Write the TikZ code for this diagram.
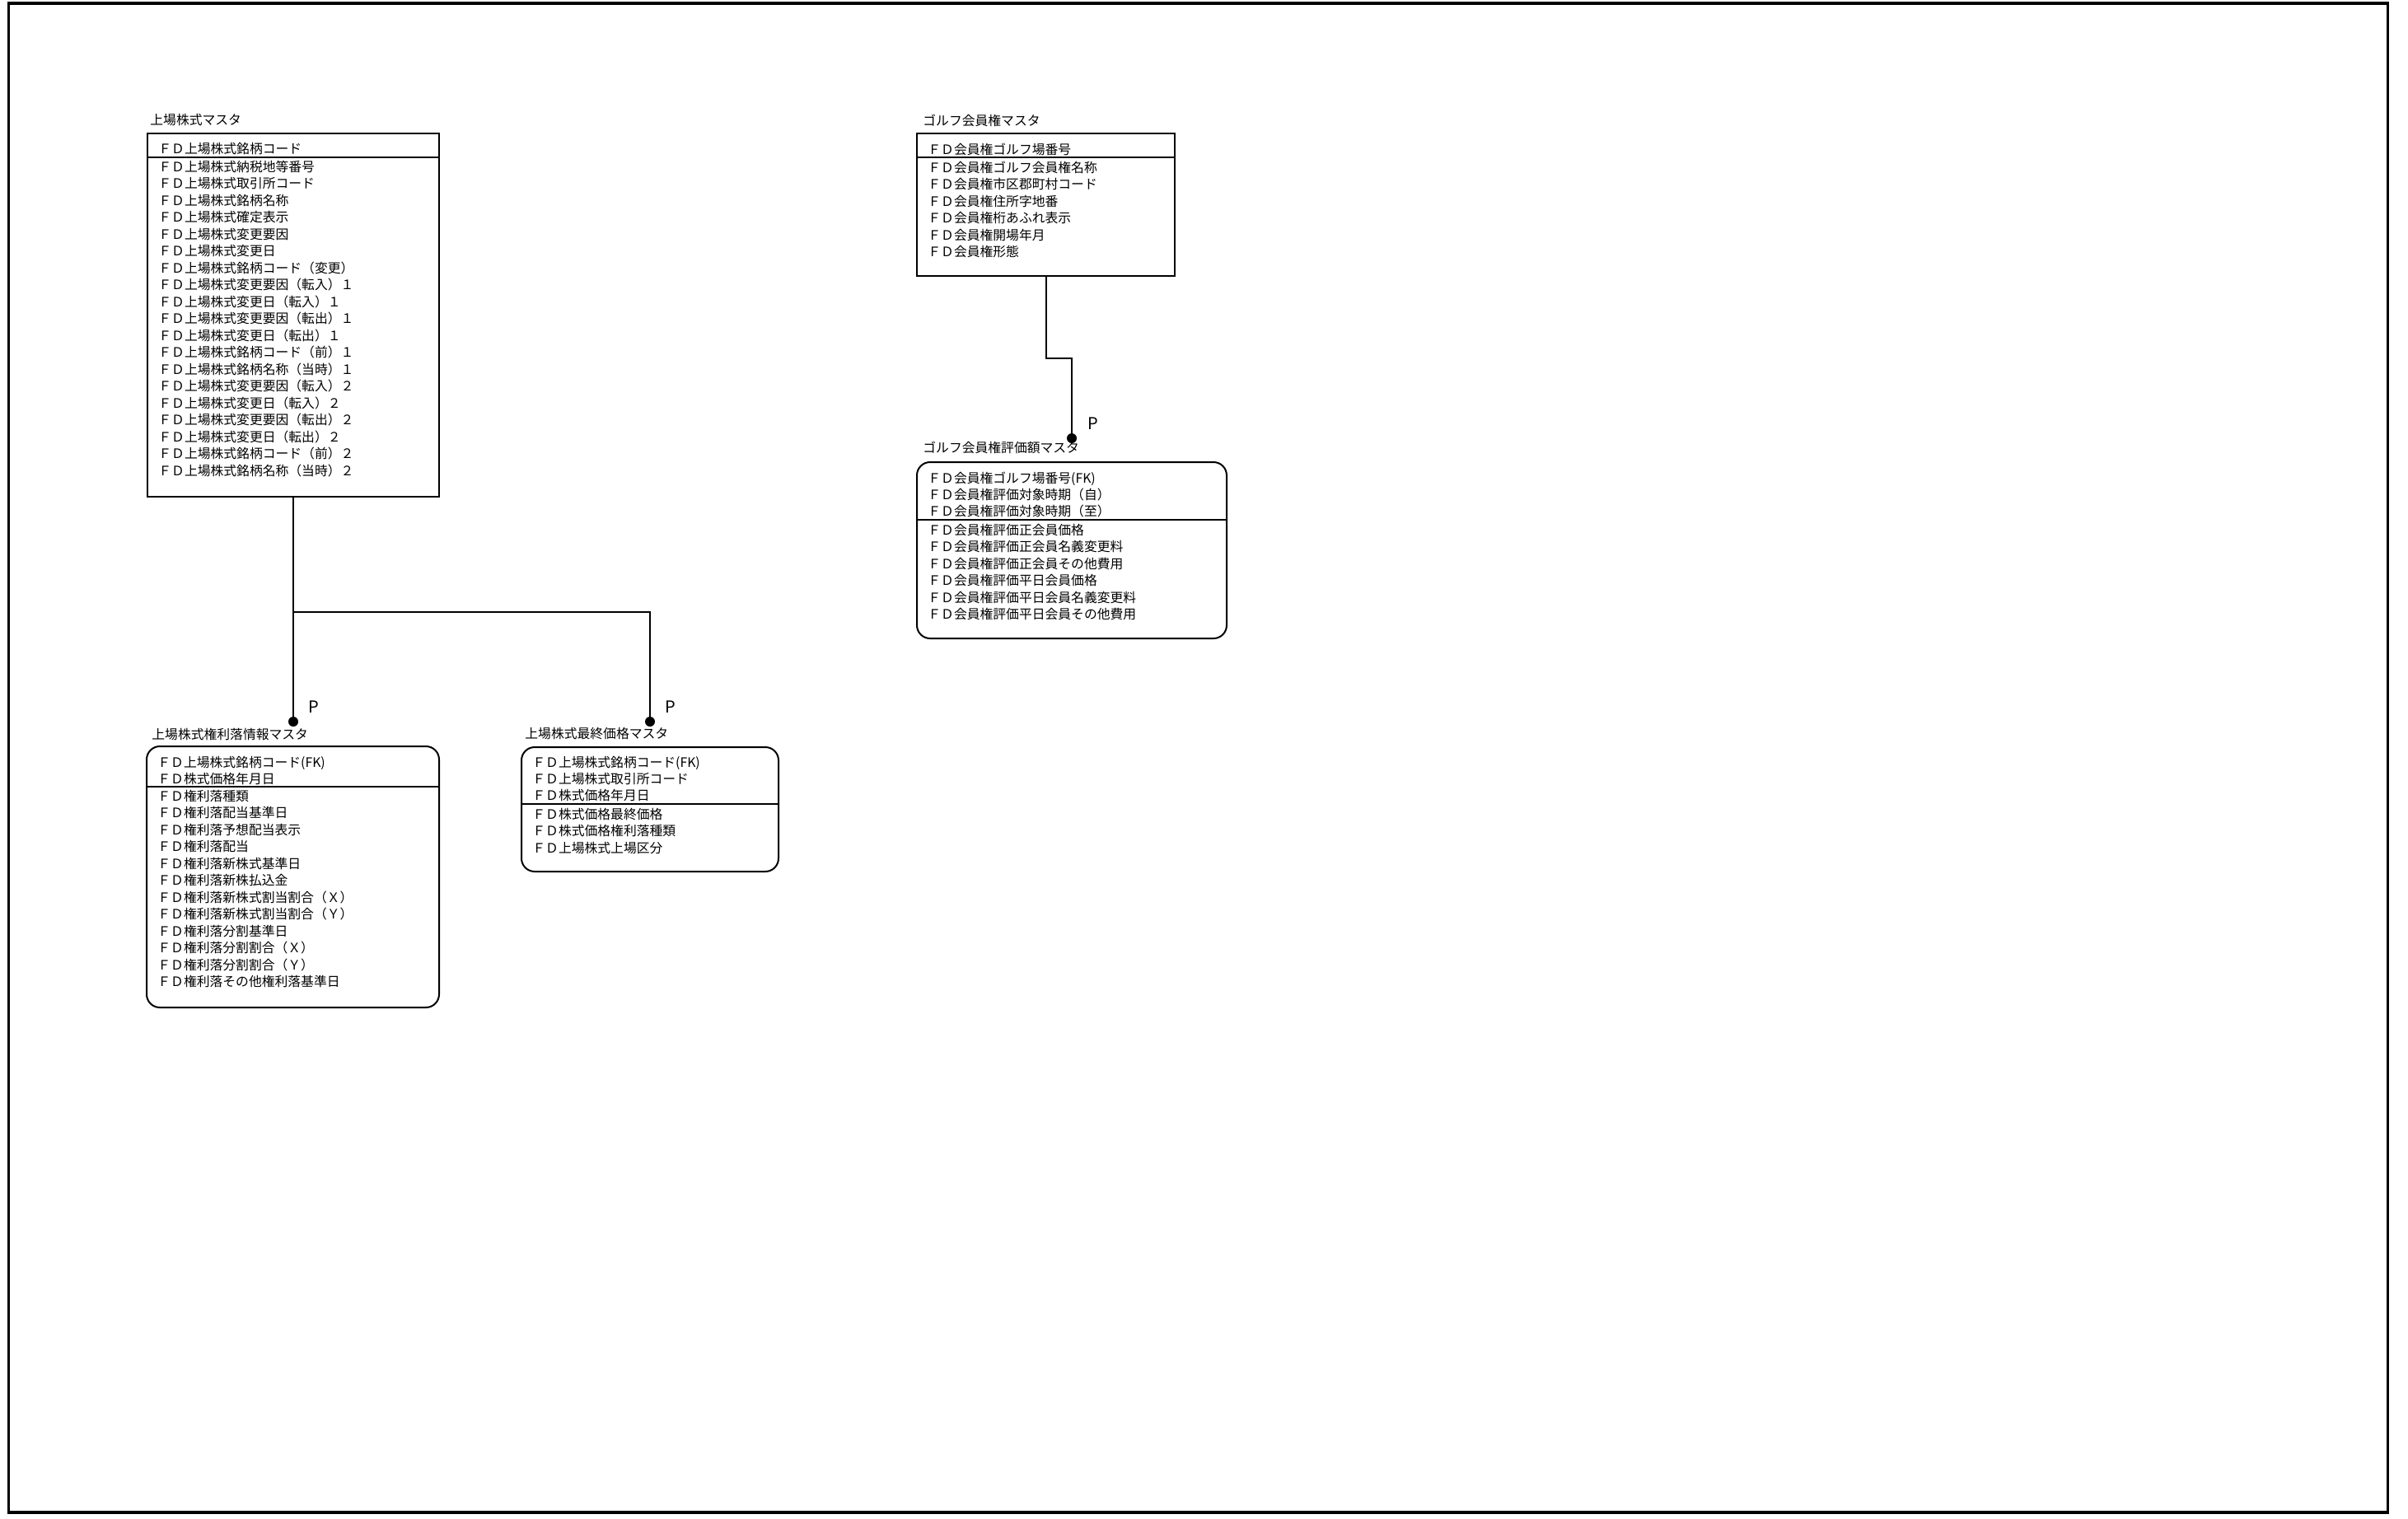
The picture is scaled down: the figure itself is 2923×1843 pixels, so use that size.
\documentclass[tikz,border=0pt]{standalone}
\usepackage{fontspec}
\setmainfont{Noto Sans CJK JP}
\usetikzlibrary{positioning,calc,fit}

\begin{document}
\begin{tikzpicture}[
    x=0.5pt, y=-0.5pt,
    table/.style={rectangle, draw, line width=1pt, inner sep=0pt},
    rtable/.style={table, rounded corners=8pt},
    title/.style={anchor=base west, inner sep=0pt, font=\fontsize{7.9}{10}\selectfont},
    keyrows/.style={anchor=base west, inner sep=0pt, align=left, text width=170pt, font=\fontsize{7.9}{10}\selectfont},
    rows/.style={keyrows, font=\fontsize{7.9}{10.25}\selectfont},
    sep/.style={line width=1pt},
    rel/.style={line width=1pt},
    dot/.style={circle, fill, inner sep=0pt, minimum size=6pt},
    plabel/.style={anchor=base west, inner sep=0pt, font=\fontsize{10}{12}\selectfont}
]
\useasboundingbox (0,0) rectangle (2923,1843);
\draw[line width=1.75pt] (10.5,4) rectangle (2898.5,1836);

% 上場株式マスタ
\node[title] (stockT) at (182,151) {上場株式マスタ};
\node[table, fit={(179,162) (533,603)}] (stock) {};
\draw[sep] (stock.west |- 0,191) -- (stock.east |- 0,191);
\node[keyrows] (stockK) at (192,186) {ＦＤ上場株式銘柄コード};
\node[rows] (stockA) at (192,208) {ＦＤ上場株式納税地等番号\\ＦＤ上場株式取引所コード\\ＦＤ上場株式銘柄名称\\ＦＤ上場株式確定表示\\ＦＤ上場株式変更要因\\ＦＤ上場株式変更日\\ＦＤ上場株式銘柄コード（変更）\\ＦＤ上場株式変更要因（転入）１\\ＦＤ上場株式変更日（転入）１\\ＦＤ上場株式変更要因（転出）１\\ＦＤ上場株式変更日（転出）１\\ＦＤ上場株式銘柄コード（前）１\\ＦＤ上場株式銘柄名称（当時）１\\ＦＤ上場株式変更要因（転入）２\\ＦＤ上場株式変更日（転入）２\\ＦＤ上場株式変更要因（転出）２\\ＦＤ上場株式変更日（転出）２\\ＦＤ上場株式銘柄コード（前）２\\ＦＤ上場株式銘柄名称（当時）２};

% 上場株式権利落情報マスタ
\node[title] (rightsT) at (184,897) {上場株式権利落情報マスタ};
\node[rtable, fit={(178,906) (533,1223)}] (rights) {};
\draw[sep] (rights.west |- 0,955) -- (rights.east |- 0,955);
\node[keyrows] (rightsK) at (191,931) {ＦＤ上場株式銘柄コード(FK)\\ＦＤ株式価格年月日};
\node[rows] (rightsA) at (191,972) {ＦＤ権利落種類\\ＦＤ権利落配当基準日\\ＦＤ権利落予想配当表示\\ＦＤ権利落配当\\ＦＤ権利落新株式基準日\\ＦＤ権利落新株払込金\\ＦＤ権利落新株式割当割合（Ｘ）\\ＦＤ権利落新株式割当割合（Ｙ）\\ＦＤ権利落分割基準日\\ＦＤ権利落分割割合（Ｘ）\\ＦＤ権利落分割割合（Ｙ）\\ＦＤ権利落その他権利落基準日};

% 上場株式最終価格マスタ
\node[title] (finalT) at (637,896) {上場株式最終価格マスタ};
\node[rtable, fit={(633,907) (945,1058)}] (final) {};
\draw[sep] (final.west |- 0,976) -- (final.east |- 0,976);
\node[keyrows] (finalK) at (646,931) {ＦＤ上場株式銘柄コード(FK)\\ＦＤ上場株式取引所コード\\ＦＤ株式価格年月日};
\node[rows] (finalA) at (646,994) {ＦＤ株式価格最終価格\\ＦＤ株式価格権利落種類\\ＦＤ上場株式上場区分};

% ゴルフ会員権マスタ
\node[title] (golfT) at (1120,152) {ゴルフ会員権マスタ};
\node[table, fit={(1113,162) (1426,335)}] (golf) {};
\draw[sep] (golf.west |- 0,191) -- (golf.east |- 0,191);
\node[keyrows] (golfK) at (1126,187) {ＦＤ会員権ゴルフ場番号};
\node[rows] (golfA) at (1126,209) {ＦＤ会員権ゴルフ会員権名称\\ＦＤ会員権市区郡町村コード\\ＦＤ会員権住所字地番\\ＦＤ会員権桁あふれ表示\\ＦＤ会員権開場年月\\ＦＤ会員権形態};

% ゴルフ会員権評価額マスタ
\node[title] (valueT) at (1120,549) {ゴルフ会員権評価額マスタ};
\node[rtable, fit={(1113,561) (1489,775)}] (value) {};
\draw[sep] (value.west |- 0,631) -- (value.east |- 0,631);
\node[keyrows] (valueK) at (1126,586) {ＦＤ会員権ゴルフ場番号(FK)\\ＦＤ会員権評価対象時期（自）\\ＦＤ会員権評価対象時期（至）};
\node[rows] (valueA) at (1126,649) {ＦＤ会員権評価正会員価格\\ＦＤ会員権評価正会員名義変更料\\ＦＤ会員権評価正会員その他費用\\ＦＤ会員権評価平日会員価格\\ＦＤ会員権評価平日会員名義変更料\\ＦＤ会員権評価平日会員その他費用};

% Relations
\node[dot] (dotB) at (356,876) {};
\node[dot] (dotC) at (789,876) {};
\node[dot] (dotE) at (1301,532) {};
\draw[rel] (stock.south) -- (dotB);
\draw[rel] (stock.south) -- ++(0,139) -| (dotC);
\draw[rel] (golf.south) -- ++(0,99) -| (dotE);

% Labels
\node[plabel] (pB) at ($(dotB)+(18,-11)$) {P};
\node[plabel] (pC) at ($(dotC)+(18,-11)$) {P};
\node[plabel] (pE) at ($(dotE)+(19,-11)$) {P};
\end{tikzpicture}
\end{document}
